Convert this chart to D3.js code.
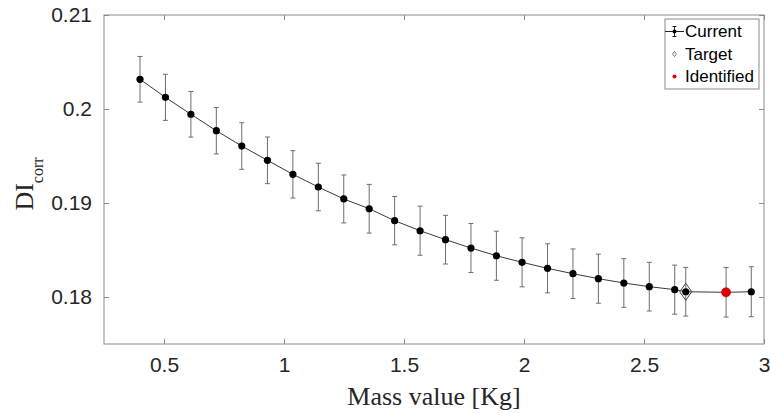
<!DOCTYPE html>
<html><head><meta charset="utf-8">
<script src="https://cdn.jsdelivr.net/npm/d3@7"></script>
<style>body{margin:0;background:#fff}svg{display:block}</style>
</head><body>
<svg id="c" width="770" height="413"></svg>
<script>
const massValues = [0.400,0.506,0.612,0.718,0.824,0.931,1.037,1.143,1.249,1.355,1.461,1.567,1.673,1.779,1.885,1.992,2.098,2.204,2.310,2.416,2.522,2.628,2.674,2.842,2.947];
const diCorr = [0.20316,0.20124,0.19944,0.19769,0.19606,0.19454,0.19305,0.19170,0.19043,0.18939,0.18812,0.18705,0.18610,0.18521,0.18439,0.18369,0.18305,0.18248,0.18195,0.18149,0.18110,0.18078,0.18056,0.18050,0.18056];
const diErr = [0.00243,0.00245,0.00243,0.00247,0.00248,0.00248,0.00252,0.00253,0.00255,0.00259,0.00257,0.00261,0.00259,0.00261,0.00261,0.00261,0.00261,0.00263,0.00261,0.00259,0.00259,0.00261,0.00259,0.00263,0.00266];
const targetPoint = [2.674, 0.18056];
const identifiedPoint = [2.842, 0.18050];
const xTicks = [0.5,1,1.5,2,2.5,3];
const xTickLabels = ["0.5","1","1.5","2","2.5","3"];
const yTicks = [0.18,0.19,0.2,0.21];
const yTickLabels = ["0.18","0.19","0.2","0.21"];
const legendLabels = ["Current","Target","Identified"];

const svg = d3.select("#c");
const L=104, R=764, T=15, B=344;
const x = d3.scaleLinear().domain([0.25,3]).range([L,R]);
const y = d3.scaleLinear().domain([0.175,0.21]).range([B,T]);
const axisCol = "#8a8a8a";
const tickFont = "Arial, 'Liberation Sans', sans-serif";

// axes box
svg.append("rect").attr("x",L).attr("y",T).attr("width",R-L).attr("height",B-T)
  .attr("fill","none").attr("stroke",axisCol).attr("stroke-width",1);

const gx = svg.append("g").attr("transform",`translate(0,${B})`)
  .call(d3.axisBottom(x).tickValues(xTicks).tickFormat((d,i)=>xTickLabels[i]).tickSizeInner(-5).tickSizeOuter(0).tickPadding(13));
const gy = svg.append("g").attr("transform",`translate(${L},0)`)
  .call(d3.axisLeft(y).tickValues(yTicks).tickFormat((d,i)=>yTickLabels[i]).tickSizeInner(-5).tickSizeOuter(0).tickPadding(12));
const gx2 = svg.append("g").attr("transform",`translate(0,${T})`)
  .call(d3.axisTop(x).tickValues(xTicks).tickFormat("").tickSizeInner(-5).tickSizeOuter(0));
const gy2 = svg.append("g").attr("transform",`translate(${R},0)`)
  .call(d3.axisRight(y).tickValues(yTicks).tickFormat("").tickSizeInner(-5).tickSizeOuter(0));
[gx,gy,gx2,gy2].forEach(g=>{
  g.select(".domain").remove();
  g.selectAll(".tick line").attr("stroke",axisCol);
  g.selectAll(".tick text").attr("fill","#262626").style("font-family",tickFont).style("font-size","21px");
});

// error bars
const cap = 2.5;
const eb = svg.append("g").attr("stroke","#6e6e6e").attr("stroke-width",1).attr("fill","none");
massValues.forEach((m,i)=>{
  const cx = x(m), y1 = y(diCorr[i]+diErr[i]), y2 = y(diCorr[i]-diErr[i]);
  eb.append("line").attr("x1",cx).attr("x2",cx).attr("y1",y1).attr("y2",y2);
  eb.append("line").attr("x1",cx-cap).attr("x2",cx+cap).attr("y1",y1).attr("y2",y1);
  eb.append("line").attr("x1",cx-cap).attr("x2",cx+cap).attr("y1",y2).attr("y2",y2);
});

// line
const line = d3.line().x((d,i)=>x(massValues[i])).y(d=>y(d));
svg.append("path").datum(diCorr).attr("d",line).attr("fill","none").attr("stroke","#3a3a3a").attr("stroke-width",1);

// markers
svg.append("g").selectAll("circle").data(diCorr).join("circle")
  .attr("cx",(d,i)=>x(massValues[i])).attr("cy",d=>y(d)).attr("r",3.6).attr("fill","#000");

// target diamond
const tx = x(targetPoint[0]), ty = y(targetPoint[1]);
svg.append("path").attr("d",`M${tx},${ty-8.5}L${tx+6},${ty}L${tx},${ty+8.5}L${tx-6},${ty}Z`)
  .attr("fill","none").attr("stroke","#444").attr("stroke-width",1);

// identified
svg.append("circle").attr("cx",x(identifiedPoint[0])).attr("cy",y(identifiedPoint[1])).attr("r",4.6)
  .attr("fill","#e00000").attr("stroke","#b00000").attr("stroke-width",0.5);

// legend
const lg = svg.append("g");
lg.append("rect").attr("x",665).attr("y",19).attr("width",94).attr("height",70)
  .attr("fill","#fff").attr("stroke",axisCol).attr("stroke-width",1);
const rowY = [31.5,54,76.5];
const sx = 674.5;
lg.append("line").attr("x1",665).attr("x2",684).attr("y1",rowY[0]).attr("y2",rowY[0]).attr("stroke","#222");
lg.append("line").attr("x1",sx).attr("x2",sx).attr("y1",rowY[0]-5).attr("y2",rowY[0]+5).attr("stroke","#222");
lg.append("line").attr("x1",sx-2).attr("x2",sx+2).attr("y1",rowY[0]-5).attr("y2",rowY[0]-5).attr("stroke","#222");
lg.append("line").attr("x1",sx-2).attr("x2",sx+2).attr("y1",rowY[0]+5).attr("y2",rowY[0]+5).attr("stroke","#222");
lg.append("circle").attr("cx",sx).attr("cy",rowY[0]).attr("r",2).attr("fill","#000");
lg.append("path").attr("d",`M${sx},${rowY[1]-2.5}L${sx+2},${rowY[1]}L${sx},${rowY[1]+2.5}L${sx-2},${rowY[1]}Z`)
  .attr("fill","none").attr("stroke","#555").attr("stroke-width",0.8);
lg.append("circle").attr("cx",sx).attr("cy",rowY[2]).attr("r",2).attr("fill","#e00000");
lg.selectAll("text.lab").data(legendLabels).join("text").attr("class","lab")
  .attr("x",685).attr("y",(d,i)=>rowY[i]).attr("dy","0.35em")
  .style("font-family",tickFont).style("font-size","17px").attr("fill","#000").text(d=>d);

// axis labels
svg.append("text").attr("x",(L+R)/2).attr("y",405).attr("text-anchor","middle")
  .style("font-family","'Times New Roman','Liberation Serif',serif").style("font-size","26px").attr("fill","#262626")
  .text("Mass value [Kg]");
const yl = svg.append("text").attr("transform","translate(33,184) rotate(-90)").attr("text-anchor","middle")
  .style("font-family","'Times New Roman','Liberation Serif',serif").attr("fill","#262626");
yl.append("tspan").style("font-size","26px").text("DI");
yl.append("tspan").style("font-size","16px").attr("dy",10).text("corr");
</script>
</body></html>
